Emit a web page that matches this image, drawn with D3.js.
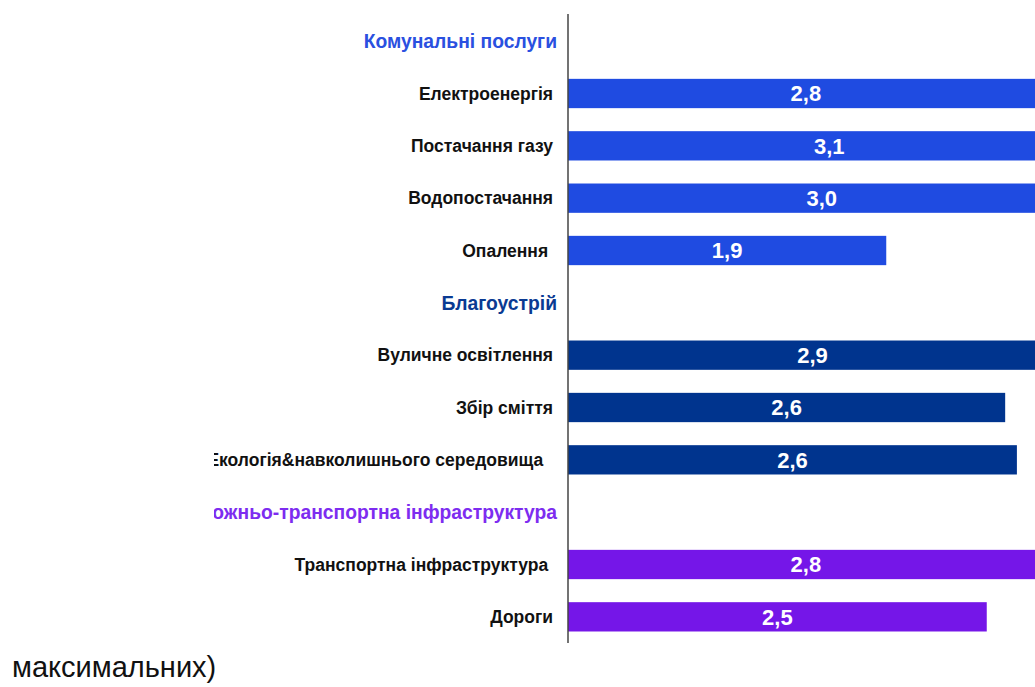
<!DOCTYPE html>
<html>
<head>
<meta charset="utf-8">
<script src="https://cdn.jsdelivr.net/npm/d3@7"></script>
<style>
  body { margin: 0; background: #fff; overflow: hidden; }
  svg { display: block; }
  text.cat { white-space: pre; }
</style>
</head>
<body>
<div id="chart"></div>
<script>
// rows of the chart: group headers and items, top to bottom
const groups = ["Комунальні послуги", "Благоустрій", "Дорожньо-транспортна інфраструктура"];
const groupColors = ["#1f4be1", "#00348e", "#7516e8"];
const headerColors = ["#2a50e0", "#0a3a92", "#7d2cf0"];
const categories = [
    ["Електроенергія", "Постачання газу", "Водопостачання", "Опалення "],
    ["Вуличне освітлення", "Збір сміття", "Екологія&навколишнього середовища  "],
    ["Транспортна інфраструктура ", "Дороги"]
];
const values = [
    [2.84, 3.12, 3.03, 1.9],
    [2.92, 2.61, 2.68],
    [2.84, 2.5]
];
const valueLabels = [
    ["2,8", "3,1", "3,0", "1,9"],
    ["2,9", "2,6", "2,6"],
    ["2,8", "2,5"]
];
const footnote = "максимальних)";

const width = 1035;
const height = 687;

// flatten to one list of rows
const rows = [];
groups.forEach((g, gi) => {
    rows.push({ key: "h" + gi, header: true, text: g, group: gi });
    categories[gi].forEach((c, ci) => {
        rows.push({ key: gi + "-" + ci, header: false, text: c, group: gi,
            value: values[gi][ci], label: valueLabels[gi][ci] });
    });
});

const svg = d3.select("#chart").append("svg")
    .attr("width", width)
    .attr("height", height);

svg.append("defs").append("clipPath")
    .attr("id", "plot-clip")
    .append("rect")
    .attr("x", 214).attr("y", 0)
    .attr("width", width - 214).attr("height", 650);

const y = d3.scaleBand()
    .domain(rows.map(d => d.key))
    .range([15, 643])
    .paddingInner(0.44)
    .paddingOuter(0.22);

const x = d3.scaleLinear()
    .domain([0, 3])
    .range([568, 1070.5]);

const g = svg.append("g").attr("clip-path", "url(#plot-clip)");

const items = rows.filter(d => !d.header);

g.selectAll("rect.bar")
    .data(items)
    .enter().append("rect")
    .attr("class", "bar")
    .attr("x", x(0))
    .attr("y", d => y(d.key))
    .attr("width", d => x(d.value) - x(0))
    .attr("height", y.bandwidth())
    .attr("fill", d => groupColors[d.group]);

g.selectAll("text.value")
    .data(items)
    .enter().append("text")
    .attr("class", "value")
    .attr("x", d => (x(0) + x(d.value)) / 2)
    .attr("y", d => y(d.key) + y.bandwidth() / 2)
    .attr("dy", "0.36em")
    .attr("text-anchor", "middle")
    .attr("fill", "#fff")
    .style("font", "bold 22px 'Liberation Sans', Arial, sans-serif")
    .text(d => d.label);

g.selectAll("text.cat")
    .data(rows)
    .enter().append("text")
    .attr("class", "cat")
    .attr("x", d => d.header ? 557 : 553)
    .attr("y", d => y(d.key) + y.bandwidth() / 2)
    .attr("dy", "0.36em")
    .attr("text-anchor", "end")
    .attr("fill", d => d.header ? headerColors[d.group] : "#111")
    .style("font", d => d.header
        ? "bold 19.3px 'Liberation Sans', Arial, sans-serif"
        : "bold 17.5px 'Liberation Sans', Arial, sans-serif")
    .text(d => d.text);

// vertical axis line
svg.append("line")
    .attr("x1", x(0)).attr("x2", x(0))
    .attr("y1", 14).attr("y2", 643)
    .attr("stroke", "#444")
    .attr("stroke-width", 1.5);

svg.append("text")
    .attr("x", 12)
    .attr("y", 677)
    .attr("fill", "#111")
    .style("font", "29px 'Liberation Sans', Arial, sans-serif")
    .text(footnote);
</script>
</body>
</html>
